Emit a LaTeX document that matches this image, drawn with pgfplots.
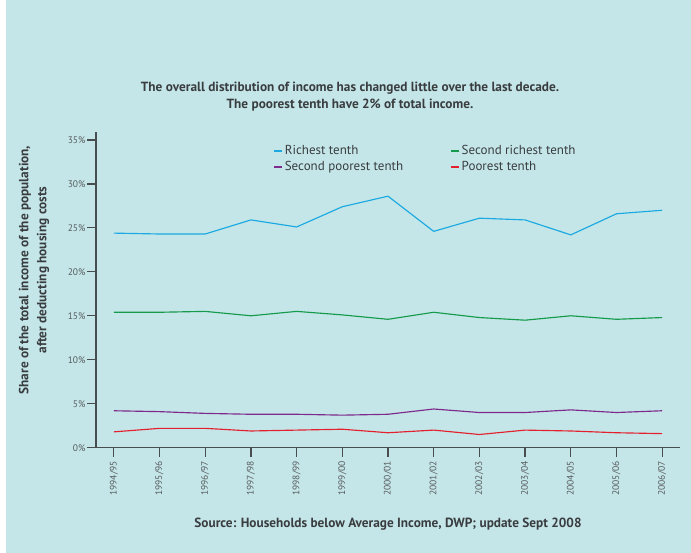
\documentclass[border=0pt]{standalone}
\usepackage{pgfplots}
\pgfplotsset{compat=1.18}
\usepackage{fontspec}
\setmainfont{PT Sans}

\definecolor{panel}{HTML}{C4E6E8}
\definecolor{inkgrey}{HTML}{3A3D40}
\definecolor{axisgrey}{HTML}{4A4D50}
\definecolor{richest}{HTML}{1BA9E1}
\definecolor{secondrich}{HTML}{159B4B}
\definecolor{secondpoor}{HTML}{7D2A8C}
\definecolor{poorest}{HTML}{E5202E}

\begin{document}
\begin{tikzpicture}
% page background with narrow white margin on the left
\path[use as bounding box] (0pt,0pt) rectangle (691pt,553pt);
\fill[white] (0pt,0pt) rectangle (691pt,553pt);
\fill[panel] (6pt,0pt) rectangle (691pt,553pt);

\begin{axis}[
  scale only axis,
  width=584pt, height=315.7pt,
  at={(96pt,105.3pt)}, anchor=south west,
  xmin=-0.39, xmax=12.39,
  ymin=0, ymax=35.9,
  axis x line=bottom, axis y line=left,
  axis line style={-, draw=axisgrey, line width=1.3pt},
  xtick={0,...,12},
  xticklabels={1994/95,1995/96,1996/97,1997/98,1998/99,1999/00,2000/01,2001/02,2002/03,2003/04,2004/05,2005/06,2006/07},
  ytick={0,5,...,35},
  yticklabel={\pgfmathprintnumber{\tick}\%},
  /pgf/number format/assume math mode=true,
  tick align=outside,
  major tick length=9pt,
  tick style={draw=axisgrey, line width=1.3pt},
  tick label style={font=\fontsize{9.5}{11}\selectfont, text=inkgrey!85},
  xticklabel style={rotate=90, anchor=east, xshift=-1pt},
  yticklabel style={anchor=east, xshift=2pt},
  every axis plot/.append style={line width=1.15pt},
  legend columns=2,
  legend cell align=left,
  legend style={at={(rel axis cs:0.298,0.970)}, anchor=north west,
    draw=none, fill=none, font=\fontsize{13}{14}\selectfont,
    /tikz/column 2/.style={column sep=45pt}, row sep=1pt},
  legend image code/.code={\draw[#1, line width=1.6pt] (0pt,0pt) -- (8pt,0pt);},
  clip=false,
]
\addplot[richest] coordinates {
  (0,24.4) (1,24.3) (2,24.3) (3,25.9) (4,25.1) (5,27.4) (6,28.6)
  (7,24.6) (8,26.1) (9,25.9) (10,24.2) (11,26.6) (12,27.0)};
\addlegendentry{\textcolor{inkgrey}{Richest tenth}}
\addplot[secondrich] coordinates {
  (0,15.4) (1,15.4) (2,15.5) (3,15.0) (4,15.5) (5,15.1) (6,14.6)
  (7,15.4) (8,14.8) (9,14.5) (10,15.0) (11,14.6) (12,14.8)};
\addlegendentry{\textcolor{inkgrey}{Second richest tenth}}
\addplot[secondpoor] coordinates {
  (0,4.2) (1,4.1) (2,3.9) (3,3.8) (4,3.8) (5,3.7) (6,3.8)
  (7,4.4) (8,4.0) (9,4.0) (10,4.3) (11,4.0) (12,4.2)};
\addlegendentry{\textcolor{inkgrey}{Second poorest tenth}}
\addplot[poorest] coordinates {
  (0,1.8) (1,2.2) (2,2.2) (3,1.9) (4,2.0) (5,2.1) (6,1.7)
  (7,2.0) (8,1.5) (9,2.0) (10,1.9) (11,1.7) (12,1.6)};
\addlegendentry{\textcolor{inkgrey}{Poorest tenth}}
\end{axis}

% headline
\node[align=center, text=inkgrey, font=\bfseries\fontsize{13.3}{17}\selectfont]
  at (350pt,456pt) {The overall distribution of income has changed little over the last decade.\\
  The poorest tenth have 2\% of total income.};
% vertical axis title
\node[rotate=90, align=center, text=inkgrey, font=\bfseries\fontsize{13.3}{18}\selectfont]
  at (34pt,283pt) {Share of the total income of the population,\\after deducting housing costs};
% source line
\node[text=inkgrey, font=\bfseries\fontsize{13.3}{15}\selectfont]
  at (388pt,29pt) {Source: Households below Average Income, DWP; update Sept 2008};
\end{tikzpicture}
\end{document}
